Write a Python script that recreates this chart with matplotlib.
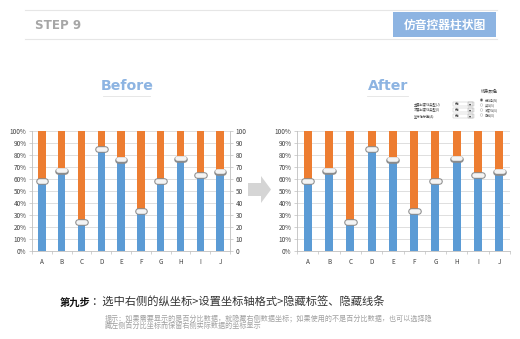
import matplotlib
matplotlib.use("Agg")
import matplotlib.pyplot as plt
import numpy as np
from matplotlib.patches import Polygon, Rectangle, Circle

plt.rcParams['font.family'] = ['Noto Sans CJK SC', 'DejaVu Sans']

# data
categories = ['A', 'B', 'C', 'D', 'E', 'F', 'G', 'H', 'I', 'J']
values = [58, 67, 24, 85, 76, 33, 58, 77, 63, 66]
pct_ticks = [0, 10, 20, 30, 40, 50, 60, 70, 80, 90, 100]
pct_labels = ['%d%%' % t for t in pct_ticks]
num_labels = [str(t) for t in pct_ticks]

header_title = 'STEP 9'
header_tag = '仿音控器柱状图'
step_bold = '第九步'
step_text = '：选中右侧的纵坐标>设置坐标轴格式>隐藏标签、隐藏线条'
tip_lines = ['提示：如果需要显示的是百分比数据，就隐藏右侧数据坐标；如果使用的不是百分比数据，也可以选择隐',
             '藏左侧百分比坐标而保留右侧实际数据的坐标显示']
dlg_labels = ['主要刻度线类型(J)', '次要刻度线类型(I)', '坐标轴标签(A)']
dlg_radio = ['无线条(N)', '实线(S)', '渐变线(G)', '自动(U)']

BLUE = '#5B9BD5'
ORANGE = '#ED7D31'
TITLE_BLUE = '#8DB4E2'
W, H = 520, 339

fig = plt.figure(figsize=(W / 100, H / 100), dpi=100)

# overlay in pixel coordinates for the decorations
bg = fig.add_axes([0, 0, 1, 1])
bg.set_xlim(0, W)
bg.set_ylim(H, 0)
bg.axis('off')

bg.plot([25, 497], [10, 10], color='#E6E6E6', lw=0.8)
bg.plot([25, 497], [39, 39], color='#E6E6E6', lw=0.8)
bg.text(35, 25.5, header_title, fontsize=8.6, fontweight='bold', color='#A6A6A6',
        family=['DejaVu Sans'], va='center', ha='left')
bg.add_patch(Rectangle((393, 12), 103, 25, color=TITLE_BLUE, lw=0))
bg.text(444.5, 25, header_tag, fontsize=8.5, fontweight='bold', color='white',
        va='center', ha='center')

# titles
for txt, cx, x0, x1 in [('Before', 127, 103, 150), ('After', 388.5, 367, 408)]:
    bg.text(cx, 86.5, txt, fontsize=10.2, fontweight='bold', color=TITLE_BLUE,
            family=['DejaVu Sans'], va='center', ha='center')
    bg.plot([x0, x1], [96, 96], color='#E3E3E3', lw=0.6)

# arrow
bg.add_patch(Polygon([(248, 183), (261, 183), (261, 176), (271, 189.5),
                      (261, 203), (261, 196), (248, 196)], closed=True,
                     color='#D5D5D5', lw=0))

# footer
bg.text(60, 302.5, step_bold, fontsize=7.4, fontweight='bold', color='#111111',
        va='center', ha='left')
bg.text(91, 302.5, step_text, fontsize=8.1, color='#333333', va='center', ha='left')
for i, line in enumerate(tip_lines):
    bg.text(105, 318 + i * 7.8, line, fontsize=5.1, color='#A0A0A0', va='center', ha='left')

# dialog snippet in the After panel
bg.text(481, 91, '线条颜色', fontsize=3.1, color='#333333', va='center', ha='left')
for i, lab in enumerate(dlg_radio):
    y = 100 + i * 5
    bg.add_patch(Circle((481.5, y), 1.3, facecolor='#555555' if i == 0 else 'white',
                        edgecolor='#AAAAAA', lw=0.3))
    bg.text(484.5, y, lab, fontsize=2.2, color='#555555', va='center', ha='left')
for i, lab in enumerate(dlg_labels):
    y = 104 + i * 6
    bg.text(414, y, lab, fontsize=2.3, color='#444444', va='center', ha='left')
    bg.add_patch(Rectangle((453, y - 2.2), 21, 4.4, facecolor='white', edgecolor='#BBBBBB', lw=0.3))
    bg.text(455, y, '无', fontsize=2.6, color='#333333', va='center', ha='left')
    bg.add_patch(Rectangle((467.5, y - 1.8), 5, 3.6, facecolor='#EEEEEE', edgecolor='#999999', lw=0.3))
    bg.text(470, y, '▾', fontsize=3, color='#333333', va='center', ha='center',
            family=['DejaVu Sans'])


def draw_chart(rect, right_axis):
    ax = fig.add_axes(rect)
    x = np.arange(len(categories))
    vals = np.array(values)
    ax.bar(x, vals, width=0.38, color=BLUE, zorder=2)
    ax.bar(x, 100 - vals, bottom=vals, width=0.38, color=ORANGE, zorder=2)
    for xi, v in zip(x, vals):
        ax.plot([xi - 0.17, xi + 0.17], [v, v], color='#8C8C8C', lw=4.8,
                solid_capstyle='round', zorder=3)
        ax.plot([xi - 0.17, xi + 0.17], [v + 0.3, v + 0.3], color='#F4F4F4', lw=3.3,
                solid_capstyle='round', zorder=4)
    ax.set_xlim(-0.5, len(categories) - 0.5)
    ax.set_ylim(0, 100)
    ax.set_yticks(pct_ticks)
    ax.set_yticklabels(pct_labels)
    ax.set_xticks(x)
    ax.set_xticklabels(categories)
    ax.set_xticks(np.arange(len(categories) + 1) - 0.5, minor=True)
    ax.grid(axis='y', color='#D9D9D9', lw=0.6, zorder=0)
    ax.set_axisbelow(True)
    for s in ['top', 'right']:
        ax.spines[s].set_visible(False)
    ax.spines['left'].set_color('#BFBFBF')
    ax.spines['bottom'].set_color('#BFBFBF')
    ax.spines['left'].set_linewidth(0.6)
    ax.spines['bottom'].set_linewidth(0.6)
    ax.tick_params(axis='both', labelsize=4.6, colors='#BFBFBF', labelcolor='#404040',
                   length=2, width=0.5, pad=2)
    ax.tick_params(axis='x', which='major', length=0, pad=5)
    ax.tick_params(axis='x', which='minor', length=2, width=0.5, colors='#BFBFBF')
    if right_axis:
        ax2 = ax.twinx()
        ax2.set_ylim(0, 100)
        ax2.set_yticks(pct_ticks)
        ax2.set_yticklabels(num_labels)
        for s in ['top', 'left', 'bottom']:
            ax2.spines[s].set_visible(False)
        ax2.spines['right'].set_color('#BFBFBF')
        ax2.spines['right'].set_linewidth(0.6)
        ax2.tick_params(axis='y', labelsize=4.6, colors='#BFBFBF', labelcolor='#404040',
                        length=2, width=0.5, pad=2)
    return ax


draw_chart([32 / W, 1 - 251 / H, 198 / W, 120 / H], True)
draw_chart([297 / W, 1 - 251 / H, 213 / W, 120 / H], False)

fig.savefig('out.png', dpi=100, facecolor='white')
